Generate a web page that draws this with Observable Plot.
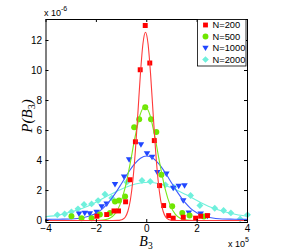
<!DOCTYPE html>
<html><head><meta charset="utf-8">
<script src="https://cdn.jsdelivr.net/npm/d3@7"></script>
<script src="https://cdn.jsdelivr.net/npm/@observablehq/plot@0.6"></script>
<style>body{margin:0;background:#fff}</style>
</head><body><div id="chart"></div>
<script>
// tick labels (x in units of 1e5, y in units of 1e-6)
const xTicks = [-4, -2, 0, 2, 4];
const yTicks = [0, 2, 4, 6, 8, 10, 12];
const seriesNames = ["N=200", "N=500", "N=1000", "N=2000"];
const markerColors = ["#ff0000", "#6fe600", "#2046ff", "#6ff0dc"];
const lineColors = ["#ff3a3a", "#7ae81a", "#3f5cff", "#6ff0dc"];

// measured points [B3 (x1e5), P (x1e-6)]
const pts200 = [[-1.98,0.29],[-1.59,0.4],[-1.3,0.64],[-1.12,0.64],[-0.84,1.25],[-0.66,2.72],[-0.45,5.25],[-0.26,10.05],[-0.06,13.0],[0.12,10.5],[0.3,5.33],[0.51,2.33],[0.67,1.0],[0.87,0.33],[1.05,0.16],[1.45,0.22],[1.94,0.16],[2.14,0.29],[2.41,0.33]];
const pts500 = [[-2.99,0.29],[-2.59,0.16],[-2.19,0.16],[-1.86,0.4],[-1.46,0.51],[-1.26,1.27],[-1.1,1.33],[-0.86,1.6],[-0.5,6.22],[-0.3,6.75],[-0.06,7.55],[0.17,6.75],[0.38,5.9],[0.58,3.05],[1.01,0.96],[1.41,0.51],[1.7,0.33],[2.27,0.27]];
const pts1000 = [[-2.69,0.44],[-2.46,0.49],[-2.26,0.45],[-1.99,0.56],[-1.79,0.93],[-1.59,1.11],[-1.26,2.4],[-0.9,2.9],[-0.7,4.05],[-0.23,5.05],[0.01,4.45],[0.21,4.22],[0.42,3.2],[0.78,3.11],[1.05,2.16],[1.27,2.29],[1.5,2.33],[1.45,1.33],[1.67,0.51],[2.14,0.44],[2.41,0.29]];
const pts2000 = [[-3.55,0.38],[-3.26,0.44],[-2.99,0.58],[-2.73,0.78],[-2.49,1.07],[-2.19,1.11],[-1.93,1.33],[-1.66,1.75],[-1.39,1.5],[-0.79,2.56],[-0.19,2.67],[0.14,2.6],[0.74,2.38],[1.07,2.22],[1.74,1.67],[2.11,1.0],[2.7,0.82],[3.05,0.67],[3.34,0.51],[3.71,0.11],[4.0,0.38]];

// fitted curves
const fit200 = [[-4,0],[-1.35,0],[-1.15,0.01],[-1.05,0.03],[-0.95,0.09],[-0.85,0.24],[-0.75,0.62],[-0.65,1.37],[-0.55,2.7],[-0.45,4.69],[-0.35,7.21],[-0.25,9.81],[-0.15,11.8],[-0.05,12.55],[0.05,11.8],[0.15,9.81],[0.25,7.21],[0.35,4.69],[0.45,2.7],[0.55,1.37],[0.65,0.62],[0.75,0.24],[0.85,0.09],[0.95,0.03],[1.05,0.01],[1.25,0],[4,0]];
const fit500 = [[-4,0],[-2.07,0],[-1.87,0.01],[-1.67,0.05],[-1.47,0.15],[-1.27,0.43],[-1.07,1.03],[-0.87,2.11],[-0.67,3.7],[-0.47,5.52],[-0.27,7.02],[-0.07,7.6],[0.13,7.02],[0.33,5.52],[0.53,3.7],[0.73,2.11],[0.93,1.03],[1.13,0.43],[1.33,0.15],[1.53,0.05],[1.73,0.01],[1.93,0],[4,0]];
const fit1000 = [[-4,0.08],[-3.5,0.09],[-3,0.1],[-2.5,0.2],[-2,0.5],[-1.75,0.8],[-1.5,1.24],[-1.25,1.81],[-1,2.47],[-0.75,3.15],[-0.5,3.74],[-0.25,4.15],[0,4.3],[0.25,4.15],[0.5,3.74],[0.75,3.15],[1,2.47],[1.25,1.81],[1.5,1.24],[1.75,0.8],[2,0.5],[2.5,0.2],[3,0.1],[3.5,0.09],[4,0.08]];
const fit2000 = [[-4,0.26],[-3.45,0.38],[-2.95,0.6],[-2.45,0.88],[-1.95,1.28],[-1.45,1.73],[-0.95,2.14],[-0.45,2.44],[0.05,2.55],[0.55,2.44],[1.05,2.14],[1.55,1.73],[2.05,1.28],[2.55,0.88],[3.05,0.6],[3.55,0.4],[4,0.28]];

const triangleDown = {
  draw(ctx, size) {
    const r = Math.sqrt(size / Math.PI), a = r * 1.2;
    ctx.moveTo(-a, -a * 0.75); ctx.lineTo(a, -a * 0.75); ctx.lineTo(0, a * 0.95); ctx.closePath();
  }
};
const symbols = ["square", "circle", triangleDown, "diamond2"];
const radii = [2.8, 3, 2.7, 3.1];
const points = [pts200, pts500, pts1000, pts2000];
const fits = [fit200, fit500, fit1000, fit2000];

const W = 283, H = 250, mL = 45.5, mR = 36, mT = 19, mB = 28;
const fw = W - mL - mR, fh = H - mT - mB;

const order = [3, 2, 1, 0];
const seriesMarks = [];
for (const i of order) {
  seriesMarks.push(Plot.dot(points[i], {x: d => d[0], y: d => d[1], symbol: symbols[i], r: radii[i], fill: markerColors[i], stroke: "none"}));
  seriesMarks.push(Plot.line(fits[i], {x: d => d[0], y: d => d[1], stroke: lineColors[i], strokeWidth: 1.1, curve: "monotone-x"}));
}

const svg = Plot.plot({
  width: W, height: H,
  marginLeft: mL, marginRight: mR, marginTop: mT, marginBottom: mB,
  x: {domain: [-4, 4]},
  y: {domain: [-0.13, 13.4]},
  style: {fontFamily: "'Liberation Sans', Arial, sans-serif", fontSize: "10px", background: "white", color: "black"},
  marks: [
    ...seriesMarks,
    Plot.axisX(xTicks, {tickSize: 0, tickPadding: 2, label: null, fontSize: 10}),
    Plot.axisY(yTicks, {tickSize: 0, tickPadding: 4, label: null, fontSize: 10}),
    Plot.tickX(xTicks, {x: d => d, insetTop: fh - 3, stroke: "black"}),
    Plot.tickX(xTicks, {x: d => d, insetBottom: fh - 3, stroke: "black"}),
    Plot.tickY(yTicks, {y: d => d, insetRight: fw - 3, stroke: "black"}),
    Plot.tickY(yTicks, {y: d => d, insetLeft: fw - 3, stroke: "black"}),
    Plot.frame({stroke: "black", strokeWidth: 1})
  ]
});

const s = d3.select(svg);
// exponent labels
const t1 = s.append("text").attr("x", 44).attr("y", 16).attr("text-anchor", "start").attr("font-size", 9).attr("fill", "black");
t1.append("tspan").text("x 10");
t1.append("tspan").attr("dy", -5).attr("font-size", 7).text("-6");
const t2 = s.append("text").attr("x", 228).attr("y", 247).attr("text-anchor", "start").attr("font-size", 9).attr("fill", "black");
t2.append("tspan").text("x 10");
t2.append("tspan").attr("dy", -5).attr("font-size", 7).text("5");
// axis titles
const yl = s.append("text").attr("transform", "translate(32,116) rotate(-90)").attr("text-anchor", "middle")
  .attr("font-family", "'Liberation Serif', 'DejaVu Serif', serif").attr("font-style", "italic").attr("font-size", 15).attr("fill", "black");
yl.append("tspan").text("P(B");
yl.append("tspan").attr("dy", 3).attr("font-size", 10).attr("font-style", "normal").text("3");
yl.append("tspan").attr("dy", -3).text(")");
const xl = s.append("text").attr("x", 146).attr("y", 245.5).attr("text-anchor", "middle")
  .attr("font-family", "'Liberation Serif', 'DejaVu Serif', serif").attr("font-style", "italic").attr("font-size", 14).attr("fill", "black");
xl.append("tspan").text("B");
xl.append("tspan").attr("dy", 3).attr("font-size", 9.5).attr("font-style", "normal").text("3");
// legend
const lg = s.append("g");
lg.append("rect").attr("x", 197.5).attr("y", 19.5).attr("width", 48.5).attr("height", 46.5).attr("fill", "white").attr("stroke", "black").attr("stroke-width", 0.8);
const symTypes = [d3.symbolSquare, d3.symbolCircle, triangleDown, d3.symbolDiamond2];
seriesNames.forEach((name, i) => {
  const y = 25 + i * 11.5;
  lg.append("path").attr("transform", `translate(205.5,${y})`)
    .attr("d", d3.symbol().type(symTypes[i]).size(Math.PI * radii[i] * radii[i] * 0.95)()).attr("fill", markerColors[i]);
  lg.append("text").attr("x", 212.5).attr("y", y + 3.3).attr("text-anchor", "start").attr("font-size", 9.3).attr("fill", "black").text(name);
});
document.getElementById("chart").appendChild(svg);
</script>
</body></html>
